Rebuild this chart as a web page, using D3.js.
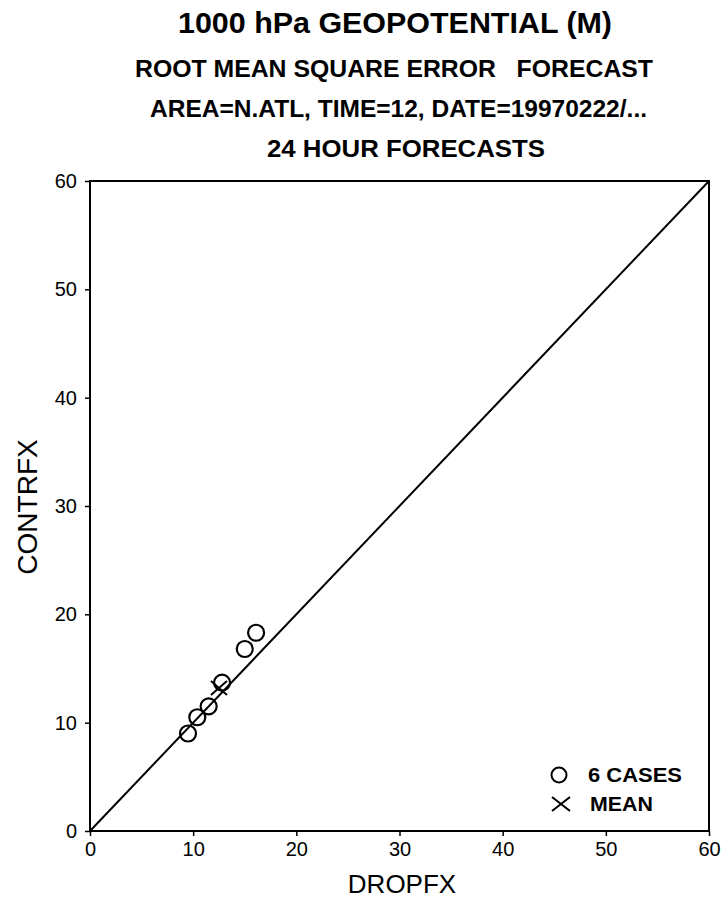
<!DOCTYPE html>
<html><head><meta charset="utf-8">
<script src="https://cdn.jsdelivr.net/npm/d3@7"></script>
<style>body{margin:0;background:#fff}svg{display:block}text{font-family:"Liberation Sans",Arial,sans-serif;fill:#000}</style>
</head><body>
<script>
const dropfx = [9.5, 10.4, 11.5, 12.8, 15.0, 16.1];
const contrfx = [9.0, 10.5, 11.5, 13.7, 16.8, 18.3];
const meanPoint = [12.5, 13.2];
const ticks = [0, 10, 20, 30, 40, 50, 60];
const titles = ["1000 hPa GEOPOTENTIAL (M)", "ROOT MEAN SQUARE ERROR   FORECAST", "AREA=N.ATL, TIME=12, DATE=19970222/...", "24 HOUR FORECASTS"];
const legendLabels = ["6 CASES", "MEAN"];

const W = 723, H = 898;
const svg = d3.select("body").append("svg").attr("width", W).attr("height", H);
const x = d3.scaleLinear().domain([0, 60]).range([90, 709]);
const y = d3.scaleLinear().domain([0, 60]).range([831, 181]);

// titles
const tspec = [
  {s: 30, y: 33, x0: 178, w: 434},
  {s: 24, y: 77, x0: 135, w: 518},
  {s: 24, y: 117, x0: 150, w: 497},
  {s: 24, y: 157, x0: 267, w: 278}
];
titles.forEach((t, i) => {
  svg.append("text").attr("x", tspec[i].x0).attr("y", tspec[i].y)
    .attr("textLength", tspec[i].w).attr("lengthAdjust", "spacingAndGlyphs")
    .style("font-size", tspec[i].s + "px").attr("font-weight", "bold").style("white-space", "pre").text(t);
});

// frame
svg.append("rect").attr("x", x(0)).attr("y", y(60)).attr("width", x(60) - x(0)).attr("height", y(0) - y(60))
  .attr("fill", "none").attr("stroke", "#000").attr("stroke-width", 2);

// axes
const xAxis = d3.axisBottom(x).tickValues(ticks).tickSize(5).tickPadding(6);
const yAxis = d3.axisLeft(y).tickValues(ticks).tickSize(5).tickPadding(8);
const gx = svg.append("g").attr("transform", `translate(0,${y(0)})`).call(xAxis);
const gy = svg.append("g").attr("transform", `translate(${x(0)},0)`).call(yAxis);
[gx, gy].forEach(g => {
  g.select(".domain").remove();
  g.selectAll(".tick line").attr("stroke", "#000").attr("stroke-width", 1.5);
  g.selectAll(".tick text").style("font-size", "20px").style("font-family", "Liberation Sans, Arial, sans-serif").attr("fill", "#000");
});

// diagonal
svg.append("line").attr("x1", x(0)).attr("y1", y(0)).attr("x2", x(60)).attr("y2", y(60))
  .attr("stroke", "#000").attr("stroke-width", 2);

// axis labels
svg.append("text").attr("x", 402).attr("y", 893).attr("text-anchor", "middle").style("font-size", "26px").text("DROPFX");
svg.append("text").attr("transform", `translate(37,507) rotate(-90)`).attr("text-anchor", "middle")
  .style("font-size", "28px").text("CONTRFX");

// points
const pts = dropfx.map((d, i) => [d, contrfx[i]]);
svg.append("g").selectAll("circle").data(pts).join("circle")
  .attr("cx", d => x(d[0])).attr("cy", d => y(d[1])).attr("r", 8)
  .attr("fill", "none").attr("stroke", "#000").attr("stroke-width", 2.2);

function cross(g, cx, cy, sx, sy) {
  g.append("path").attr("d", `M${cx - sx},${cy - sy}L${cx + sx},${cy + sy}M${cx - sx},${cy + sy}L${cx + sx},${cy - sy}`)
    .attr("stroke", "#000").attr("stroke-width", 2).attr("fill", "none");
}
cross(svg, x(meanPoint[0]), y(meanPoint[1]), 8, 7);

// legend
svg.append("circle").attr("cx", 559).attr("cy", 775).attr("r", 7.5).attr("fill", "none").attr("stroke", "#000").attr("stroke-width", 2);
cross(svg, 561, 804, 9, 7);
svg.append("text").attr("x", 588).attr("y", 782).style("font-size", "21px").attr("font-weight", "bold")
  .attr("textLength", 94).attr("lengthAdjust", "spacingAndGlyphs").text(legendLabels[0]);
svg.append("text").attr("x", 590).attr("y", 811).style("font-size", "21px").attr("font-weight", "bold")
  .attr("textLength", 63).attr("lengthAdjust", "spacingAndGlyphs").text(legendLabels[1]);
</script>
</body></html>
